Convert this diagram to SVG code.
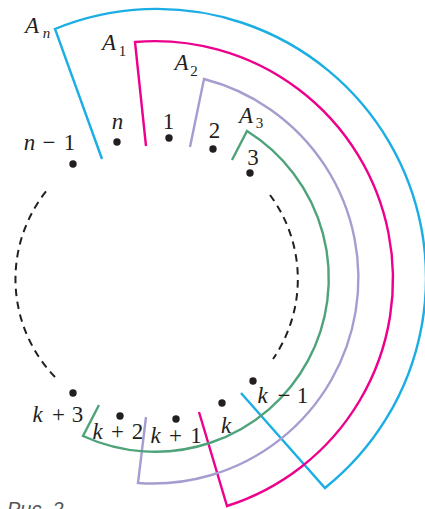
<svg xmlns="http://www.w3.org/2000/svg" width="425" height="509" viewBox="0 0 425 509">
<style>
.t{font-family:"Liberation Serif","Times New Roman",serif;font-size:23px;fill:#231f20}
.i{font-style:italic}
.s{font-size:15px}
.m{text-anchor:middle}
.dot{fill:#231f20}
.arc{fill:none;stroke-width:2.4;stroke-linejoin:miter}
.dash{fill:none;stroke:#231f20;stroke-width:2;stroke-dasharray:7.5 5.5}
.cap{font-family:"Liberation Sans",Arial,sans-serif;font-style:italic;font-size:20px;fill:#555}
</style>
<rect width="425" height="509" fill="#fff"/>
<g id="connectors">
<path class="arc" stroke="#1aaee5" d="M102 159 L55 29 A269 269 0 0 1 325 488 L241 393"/>
<path class="arc" stroke="#ec008c" d="M146 146 L135 42 A238 238 0 0 1 227 506 L199 412"/>
<path class="arc" stroke="#a59dcf" d="M190 147 L204 79 A205.5 205.5 0 0 1 138 483 L146 417"/>
<path class="arc" stroke="#4fa37a" d="M232 160 L247 131 A173.5 173.5 0 0 1 83 436 L99 405"/>
<path class="dash" d="M55 377 A141 141 0 0 1 48 189"/>
<path class="dash" d="M270 195 A141 141 0 0 1 273 359"/>
</g>
<g id="set-labels" class="t">
<text id="An"><tspan class="i m" x="32" y="33">A</tspan><tspan class="i s m" x="46.5" y="38">n</tspan></text>
<text id="A1"><tspan class="i m" x="109" y="50">A</tspan><tspan class="s m" x="122.5" y="56">1</tspan></text>
<text id="A2"><tspan class="i m" x="181.5" y="70">A</tspan><tspan class="s m" x="194" y="76">2</tspan></text>
<text id="A3"><tspan class="i m" x="246" y="123">A</tspan><tspan class="s m" x="259.5" y="128">3</tspan></text>
</g>
<g id="p-n-1"><circle class="dot" cx="73" cy="164" r="3.7"/><text class="t"><tspan class="i m" x="29.5" y="150">n</tspan><tspan class="m" x="49" y="150">−</tspan><tspan class="m" x="69.5" y="150">1</tspan></text></g>
<g id="p-n"><circle class="dot" cx="117" cy="142" r="3.7"/><text class="t i m" x="117.5" y="129">n</text></g>
<g id="p-1"><circle class="dot" cx="169" cy="138" r="3.7"/><text class="t m" x="168.5" y="129">1</text></g>
<g id="p-2"><circle class="dot" cx="213" cy="149" r="3.7"/><text class="t m" x="214.5" y="138">2</text></g>
<g id="p-3"><circle class="dot" cx="250" cy="173" r="3.7"/><text class="t m" x="253" y="165">3</text></g>
<g id="p-k-1"><circle class="dot" cx="253" cy="381" r="3.7"/><text class="t"><tspan class="i m" x="262.5" y="403">k</tspan><tspan class="m" x="284" y="403">−</tspan><tspan class="m" x="302.5" y="403">1</tspan></text></g>
<g id="p-k"><circle class="dot" cx="222" cy="403" r="3.7"/><text class="t i m" x="226" y="433">k</text></g>
<g id="p-k+1"><circle class="dot" cx="176" cy="419" r="3.7"/><text class="t"><tspan class="i m" x="155.5" y="443">k</tspan><tspan class="m" x="175.5" y="443">+</tspan><tspan class="m" x="196" y="443">1</tspan></text></g>
<g id="p-k+2"><circle class="dot" cx="120" cy="416" r="3.7"/><text class="t"><tspan class="i m" x="97.5" y="439">k</tspan><tspan class="m" x="117.5" y="439">+</tspan><tspan class="m" x="137.5" y="439">2</tspan></text></g>
<g id="p-k+3"><circle class="dot" cx="73" cy="393" r="3.7"/><text class="t"><tspan class="i m" x="37.5" y="422">k</tspan><tspan class="m" x="58.5" y="422">+</tspan><tspan class="m" x="77.5" y="422">3</tspan></text></g>
<text class="cap" x="7" y="516">Рис. 2</text>
</svg>
